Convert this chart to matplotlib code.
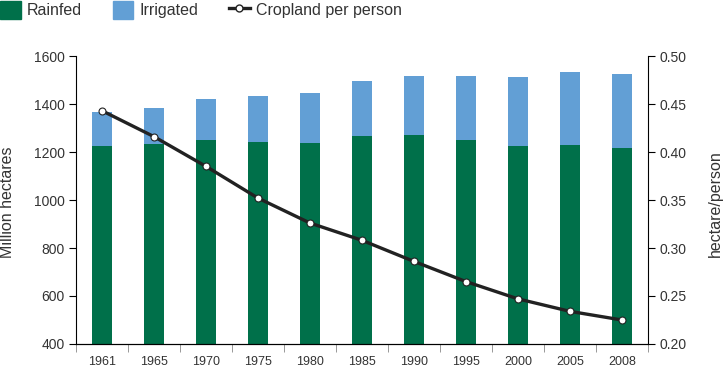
import numpy as np
import matplotlib.pyplot as plt
from matplotlib.patches import Patch
from matplotlib.lines import Line2D

plt.rcParams["font.family"] = ["Liberation Sans", "DejaVu Sans"]

years = ["1961", "1965", "1970", "1975", "1980", "1985", "1990", "1995", "2000", "2005", "2008"]
rainfed = np.array([1225, 1233, 1250, 1242, 1237, 1267, 1271, 1250, 1225, 1229, 1217])
total = np.array([1367, 1383, 1421, 1433, 1446, 1496, 1517, 1517, 1512, 1533, 1525])
irrigated = total - rainfed
per_person = np.array([0.443, 0.416, 0.385, 0.352, 0.326, 0.308, 0.286, 0.265, 0.247, 0.234, 0.225])

green = "#00704a"
blue = "#629fd5"
txt = "#333333"

fig = plt.figure(figsize=(7.24, 3.71), dpi=100)
ax = fig.add_axes([0.105, 0.0728, 0.79, 0.7762])
x = np.arange(len(years))

ax.bar(x, rainfed, width=0.4, color=green, zorder=2)
ax.bar(x, irrigated, width=0.4, bottom=rainfed, color=blue, zorder=2)
ax.set_xlim(-0.5, len(years) - 0.5)
ax.set_ylim(400, 1600)
ax.set_yticks(range(400, 1601, 200))
fig.text(0.0, 0.455, "Million hectares", rotation=90, va="center", ha="left",
         fontsize=11.5, color=txt)

ax.set_xticks(x)
ax.set_xticklabels(years)
ax.set_xticks(np.arange(-0.5, len(years)), minor=True)
ax.tick_params(axis="x", which="major", length=0, labelsize=9, labelcolor=txt, pad=9)
ax.tick_params(axis="x", which="minor", length=6, color="#888888", direction="out")
ax.tick_params(axis="y", length=5, labelsize=10, labelcolor=txt, pad=3)
ax.spines["top"].set_visible(False)
ax.spines["right"].set_visible(False)

ax2 = ax.twinx()
ax2.plot(x, per_person, color="#222222", lw=2.4, marker="o", ms=5,
         mfc="white", mec="#222222", mew=0.8, zorder=5)
ax2.set_ylim(0.2, 0.5)
ax2.set_yticks(np.arange(0.20, 0.501, 0.05))
ax2.set_yticklabels([f"{v:.2f}" for v in np.arange(0.20, 0.501, 0.05)])
ax2.tick_params(axis="y", length=5, labelsize=10, labelcolor=txt, pad=3)
ax2.spines["top"].set_visible(False)
ax2.spines["left"].set_visible(False)
fig.text(0.999, 0.45, "hectare/person", rotation=90, va="center", ha="right",
         fontsize=11.5, color=txt)

handles = [
    Patch(color=green, label="Rainfed"),
    Patch(color=blue, label="Irrigated"),
    Line2D([], [], color="#222222", lw=2.4, marker="o", ms=5, mfc="white",
           mec="#222222", label="Cropland per person"),
]
fig.legend(handles=handles, loc="upper left", bbox_to_anchor=(-0.02, 1.035), ncol=3,
           frameon=False, fontsize=11.5, handlelength=1.3, handleheight=1.3,
           columnspacing=1.9, handletextpad=0.4, labelcolor=txt)

fig.savefig("out.png", dpi=100)
